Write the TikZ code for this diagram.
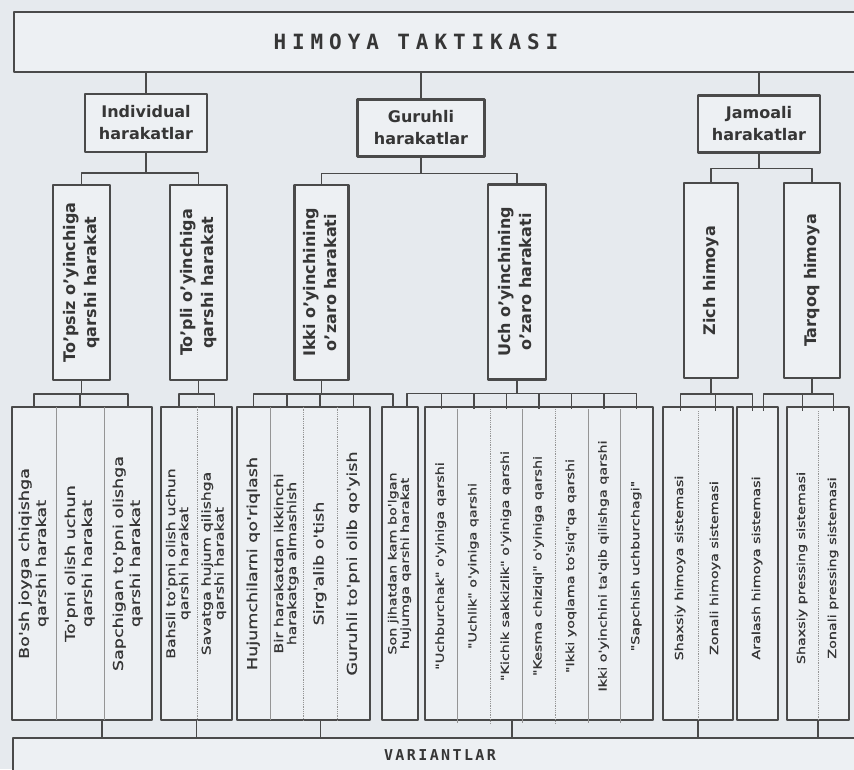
\documentclass[tikz,border=0pt]{standalone}
\usepackage{fontspec}
\usepackage{graphicx}
\setmainfont{DejaVu Sans}
\newfontfamily\colfont[FakeStretch=1.3, FakeBold=1]{DejaVu Sans}
\newfontfamily\titlefont[LetterSpace=28]{DejaVu Sans Mono}
\newfontfamily\varfont[LetterSpace=16]{DejaVu Sans Mono}
\definecolor{bgc}{HTML}{E6EAEE}
\definecolor{boxc}{HTML}{EDF0F3}
\definecolor{linec}{HTML}{4A4A4A}
\definecolor{txtc}{HTML}{363636}
\definecolor{sepc}{HTML}{959595}
\newcommand{\vlab}[1]{\rotatebox{90}{\begin{tabular}{@{}c@{}}#1\end{tabular}}}
\begin{document}
\begin{tikzpicture}[x=1pt,y=-1pt, line join=round,
	box/.style={draw=linec, fill=boxc, inner sep=0pt, text=txtc},
	lvl1/.style={box, line width=2.2pt, minimum width=122, minimum height=58, align=center, font=\bfseries\fontsize{16}{22}\selectfont},
	lvl2/.style={box, line width=2.2pt, minimum height=195, font=\bfseries\fontsize{16}{21}\selectfont},
	grp/.style={box, line width=2.6pt, minimum height=313},
	col/.style={inner sep=0pt, minimum height=313, text=txtc, font=\colfont\fontsize{13.5}{17}\selectfont},
	coln/.style={col, font=\colfont\fontsize{12}{13}\selectfont},
	cols/.style={col, font=\colfont\fontsize{11}{12.5}\selectfont},
	sep/.style={draw=sepc, line width=0.8pt},
	sepd/.style={sep, densely dotted},
	conn/.style={draw=linec, line width=1.4pt}]
	\useasboundingbox (0,0) rectangle (854,769);
	\fill[bgc] (0,0) rectangle (854,769);
	% title
	\node[box, line width=1.4pt, minimum width=860, minimum height=60] (top) at (444,42) {};
	\node[font=\titlefont\bfseries\fontsize{21}{21}\selectfont, text=txtc] (toptxt) at (416,42) {HIMOYA TAKTIKASI};
	% level 1
	\node[lvl1] (ind) at (146,123) {Individual\\harakatlar};
	\node[lvl1, minimum width=127, minimum height=57] (gur) at (421,128) {Guruhli\\harakatlar};
	\node[lvl1, minimum height=57] (jam) at (759,124) {Jamoali\\harakatlar};
	\draw[conn] (top.south -| ind.north) -- (ind.north);
	\draw[conn] (top.south -| gur.north) -- (gur.north);
	\draw[conn] (top.south -| jam.north) -- (jam.north);
	% level 2
	\node[lvl2, minimum width=57] (tps) at (81.5,282.5) {\vlab{To'psiz o'yinchiga\\qarshi harakat}};
	\node[lvl2, minimum width=57] (tpl) at (198.5,282.5) {\vlab{To'pli o'yinchiga\\qarshi harakat}};
	\node[lvl2, minimum width=54] (ikki) at (321.5,282.5) {\vlab{Ikki o'yinchining\\o'zaro harakati}};
	\node[lvl2, minimum width=58] (uch) at (517,282) {\vlab{Uch o'yinchining\\o'zaro harakati}};
	\node[lvl2, minimum width=54] (zich) at (711,280.5) {\vlab{Zich himoya}};
	\node[lvl2, minimum width=56] (tarq) at (812,280.5) {\vlab{Tarqoq himoya}};
	\draw[conn] (ind.south) -- ++(0,20) -| (tps.north);
	\draw[conn] (ind.south) -- ++(0,20) -| (tpl.north);
	\draw[conn] (gur.south) -- ++(0,16) -| (ikki.north);
	\draw[conn] (gur.south) -- ++(0,16) -| (uch.north);
	\draw[conn] (jam.south) -- ++(0,15) -| (zich.north);
	\draw[conn] (jam.south) -- ++(0,15) -| (tarq.north);
	% level 3
	\node[grp, minimum width=140] (gA) at (82,563.5) {};
	\node[col, minimum width=44] (a1) at (34,563.5) {\vlab{Bo'sh joyga chiqishga\\qarshi harakat}};
	\node[col, minimum width=48] (a2) at (80,563.5) {\vlab{To'pni olish uchun\\qarshi harakat}};
	\node[col, minimum width=48] (a3) at (128,563.5) {\vlab{Sapchigan to'pni olishga\\qarshi harakat}};
	\draw[sep] (a1.north east) -- (a1.south east);
	\draw[sep] (a2.north east) -- (a2.south east);
	\node[grp, minimum width=71] (gB) at (196.5,563.5) {};
	\node[coln, minimum width=36] (b1) at (179,563.5) {\vlab{Bahsli to'pni olish uchun\\qarshi harakat}};
	\node[coln, minimum width=35] (b2) at (214.5,563.5) {\vlab{Savatga hujum qilishga\\qarshi harakat}};
	\draw[sepd] (b1.north east) -- (b1.south east);
	\node[grp, minimum width=133] (gC) at (303.5,563.5) {};
	\node[col, minimum width=33.25] (c1) at (253.6,563.5) {\vlab{Hujumchilarni qo'riqlash}};
	\node[coln, minimum width=33.25] (c2) at (286.9,563.5) {\vlab{Bir harakatdan ikkinchi\\harakatga almashish}};
	\node[col, minimum width=33.25] (c3) at (320.1,563.5) {\vlab{Sirg'alib o'tish}};
	\node[col, minimum width=33.25] (c4) at (353.4,563.5) {\vlab{Guruhli to'pni olib qo'yish}};
	\draw[sep] (c1.north east) -- (c1.south east);
	\draw[sepd] (c2.north east) -- (c2.south east);
	\draw[sepd] (c3.north east) -- (c3.south east);
	\node[grp, minimum width=36] (gD) at (400,563.5) {};
	\node[cols, minimum width=36] (d1) at (400,563.5) {\vlab{Son jihatdan kam bo'lgan\\hujumga qarshi harakat}};
	\node[grp, minimum width=228] (gE) at (539,563.5) {};
	\node[cols, minimum width=32.57] (e1) at (441.3,566) {\vlab{"Uchburchak" o'yiniga qarshi}};
	\node[cols, minimum width=32.57] (e2) at (473.9,566) {\vlab{"Uchlik" o'yiniga qarshi}};
	\node[cols, minimum width=32.57] (e3) at (506.4,566) {\vlab{"Kichik sakkizlik" o'yiniga qarshi}};
	\node[cols, minimum width=32.57] (e4) at (539,566) {\vlab{"Kesma chiziqi" o'yiniga qarshi}};
	\node[cols, minimum width=32.57] (e5) at (571.6,566) {\vlab{"Ikki yoqlama to'siq"qa qarshi}};
	\node[cols, minimum width=32.57] (e6) at (604.1,566) {\vlab{Ikki o'yinchini ta'qib qilishga qarshi}};
	\node[cols, minimum width=32.57] (e7) at (636.7,566) {\vlab{"Sapchish uchburchagi"}};
	\draw[sep] (e1.north east) -- (e1.south east);
	\draw[sepd] (e2.north east) -- (e2.south east);
	\draw[sep] (e3.north east) -- (e3.south east);
	\draw[sepd] (e4.north east) -- (e4.south east);
	\draw[sep] (e5.north east) -- (e5.south east);
	\draw[sep] (e6.north east) -- (e6.south east);
	\node[grp, minimum width=70] (gF) at (698,563.5) {};
	\node[cols, minimum width=35] (f1) at (680.5,568) {\vlab{Shaxsiy himoya sistemasi}};
	\node[cols, minimum width=35] (f2) at (715.5,568) {\vlab{Zonali himoya sistemasi}};
	\draw[sepd] (f1.north east) -- (f1.south east);
	\node[grp, minimum width=41] (gG) at (757.5,563.5) {};
	\node[cols, minimum width=41] (g1) at (757.5,568) {\vlab{Aralash himoya sistemasi}};
	\node[grp, minimum width=62] (gH) at (818,563.5) {};
	\node[cols, minimum width=31] (h1) at (802.5,568) {\vlab{Shaxsiy pressing sistemasi}};
	\node[cols, minimum width=31] (h2) at (833.5,568) {\vlab{Zonali pressing sistemasi}};
	\draw[sepd] (h1.north east) -- (h1.south east);
	% level 2 to level 3
	\draw[conn] (tps.south) -- ++(0,13) -| (a1.north);
	\draw[conn] (tps.south) -- ++(0,13) -| (a2.north);
	\draw[conn] (tps.south) -- ++(0,13) -| (a3.north);
	\draw[conn] (tpl.south) -- ++(0,13) -| (b1.north);
	\draw[conn] (tpl.south) -- ++(0,13) -| (b2.north);
	\draw[conn] (ikki.south) -- ++(0,13) -| (c1.north);
	\draw[conn] (ikki.south) -- ++(0,13) -| (c2.north);
	\draw[conn] (ikki.south) -- ++(0,13) -| (c3.north);
	\draw[conn] (ikki.south) -- ++(0,13) -| (c4.north);
	\draw[conn] (ikki.south) -- ++(0,13) -| ([xshift=-7]d1.north);
	\draw[conn] (uch.south) -- ++(0,13) -| ([xshift=7]d1.north);
	\draw[conn] (uch.south) -- ++(0,13) -| (e1.north);
	\draw[conn] (uch.south) -- ++(0,13) -| (e2.north);
	\draw[conn] (uch.south) -- ++(0,13) -| (e3.north);
	\draw[conn] (uch.south) -- ++(0,13) -| (e4.north);
	\draw[conn] (uch.south) -- ++(0,13) -| (e5.north);
	\draw[conn] (uch.south) -- ++(0,13) -| (e6.north);
	\draw[conn] (uch.south) -- ++(0,13) -| (e7.north);
	\draw[conn] (zich.south) -- ++(0,15) -| (f1.north);
	\draw[conn] (zich.south) -- ++(0,15) -| (f2.north);
	\draw[conn] (zich.south) -- ++(0,15) -| ([xshift=-5]g1.north);
	\draw[conn] (tarq.south) -- ++(0,15) -| ([xshift=6]g1.north);
	\draw[conn] (tarq.south) -- ++(0,15) -| (h1.north);
	\draw[conn] (tarq.south) -- ++(0,15) -| (h2.north);
	% variants
	\node[box, line width=1.4pt, minimum width=862, minimum height=50] (var) at (444,763) {};
	\node[font=\varfont\bfseries\fontsize{15}{15}\selectfont, text=txtc] (vartxt) at (440,755) {VARIANTLAR};
	\draw[conn] ([xshift=20]gA.south) -- ([xshift=20]gA.south |- var.north);
	\draw[conn] (gB.south) -- (gB.south |- var.north);
	\draw[conn] ([xshift=17]gC.south) -- ([xshift=17]gC.south |- var.north);
	\draw[conn] ([xshift=-27]gE.south) -- ([xshift=-27]gE.south |- var.north);
	\draw[conn] (gF.south) -- (gF.south |- var.north);
	\draw[conn] (gH.south) -- (gH.south |- var.north);
\end{tikzpicture}
\end{document}
